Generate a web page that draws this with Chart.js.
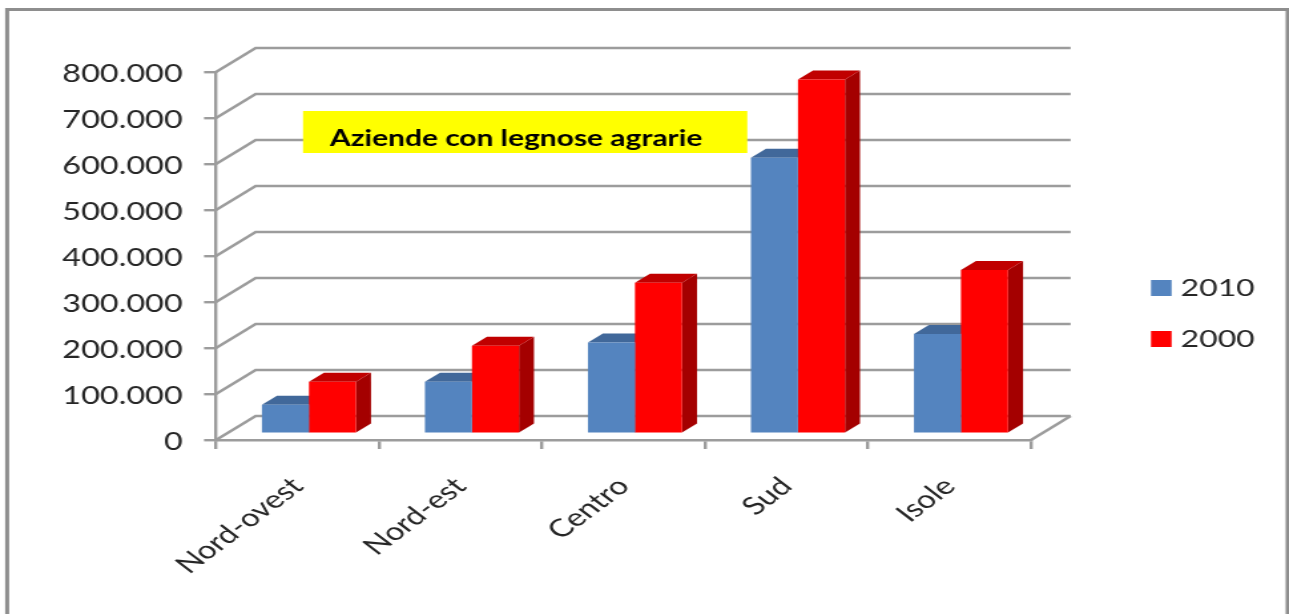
<!DOCTYPE html>
<html><head><meta charset="utf-8">
<style>
html,body{margin:0;padding:0;background:#fff;overflow:hidden}
#wrap{position:absolute;left:0;top:0;width:969px;height:614px;transform-origin:0 0;transform:scale(1.3302,1);filter:blur(0.35px)}
canvas{display:block}
</style>
<script src="https://cdn.jsdelivr.net/npm/chart.js@4"></script>
</head><body>
<div id="wrap"><canvas id="c" width="969" height="614"></canvas></div>
<script>
const categories = ['Nord-ovest','Nord-est','Centro','Sud','Isole'];
const values2010 = [63000,113000,198000,600000,217000];
const values2000 = [113000,191000,328000,770000,356000];
const seriesNames = ['2010','2000'];
const titleText = 'Aziende con legnose agrarie';

const S = 1.3302;
const FONT = 'Lato';
const GRID = '#9c9c9c';
const TEXT = '#262626';
const WALL = {dx:29.8, dy:24};
const BAR = {ox:8.6, oy:6.3, dx:11.3, dy:9};
const FACES = [{top:'#41689A',side:'#41689A'},{top:'#C00000',side:'#A40000'}];
const LEGEND_STROKE = 10.4;
const SERIES_COLORS = ['#5484BF','#FF0000'];

function nudgeLabels(dy){
  return function(s){
    if(s._nudged) return;
    s._nudged = true;
    const f = s._computeLabelItems;
    s._computeLabelItems = function(area){
      const items = f.call(this,area);
      items.forEach(it=>{ it.options.translation = [it.options.translation[0], it.options.translation[1]+dy]; });
      return items;
    };
  };
}

const scene = {
  id:'scene',
  beforeDraw(chart){
    const c = chart.ctx;
    c.save();
    c.fillStyle='#fff'; c.fillRect(0,0,chart.width,chart.height);
    c.strokeStyle='#8e8e8e'; c.lineWidth=3;
    c.beginPath();
    c.moveTo(5.4,620); c.lineTo(5.4,9.5); c.lineTo(968,9.5); c.lineTo(968,620);
    c.stroke();
    c.restore();
  },
  beforeDatasetsDraw(chart){
    const c = chart.ctx, y = chart.scales.y, a = chart.chartArea;
    c.save();
    c.strokeStyle=GRID; c.lineWidth=2.4;
    y.ticks.forEach(t=>{
      const p = y.getPixelForValue(t.value);
      c.beginPath();
      c.moveTo(a.left,p);
      c.lineTo(a.left+WALL.dx,p-WALL.dy);
      c.lineTo(a.right+WALL.dx,p-WALL.dy);
      c.stroke();
    });
    const b = y.getPixelForValue(0);
    c.beginPath();
    c.moveTo(a.right,b);
    c.lineTo(a.right+WALL.dx,b-WALL.dy);
    c.stroke();
    c.restore();
    c.save();
    c.translate(BAR.ox,-BAR.oy);
    [0,1].forEach(i=>{
      chart.getDatasetMeta(i).data.forEach(el=>{
        const l = el.x-el.width/2, r = el.x+el.width/2, t = el.y, bs = el.base;
        c.fillStyle = FACES[i].side;
        c.beginPath();
        c.moveTo(r,t); c.lineTo(r+BAR.dx,t-BAR.dy); c.lineTo(r+BAR.dx,bs-BAR.dy); c.lineTo(r,bs);
        c.closePath(); c.fill();
        c.fillStyle = FACES[i].top;
        c.beginPath();
        c.moveTo(l,t); c.lineTo(l+BAR.dx,t-BAR.dy); c.lineTo(r+BAR.dx,t-BAR.dy); c.lineTo(r,t);
        c.closePath(); c.fill();
      });
    });
  },
  afterDatasetsDraw(chart){
    const c = chart.ctx;
    c.restore();
    c.save();
    c.fillStyle='#FFFF00';
    c.fillRect(227.8,111,334,42);
    c.fillStyle='#000';
    c.font='bold 22.5px '+FONT;
    c.textAlign='left'; c.textBaseline='middle';
    c.fillText(titleText,248,138.5);
    c.restore();
  },
  afterLayout(chart){
    const lg = chart.legend;
    if(lg){
      const shift = 1151/S + LEGEND_STROKE/2 - lg.options.labels.padding - lg.left;
      lg.left += shift; lg.right += shift;
      const up = (72+614)/2 - 313.5;
      lg.top -= up; lg.bottom -= up;
      lg.adjustHitBoxes();
    }
  }
};

new Chart(document.getElementById('c'),{
  type:'bar',
  data:{labels:categories,datasets:[
    {label:seriesNames[0],data:values2010,backgroundColor:SERIES_COLORS[0],categoryPercentage:0.577,barPercentage:1},
    {label:seriesNames[1],data:values2000,backgroundColor:SERIES_COLORS[1],categoryPercentage:0.577,barPercentage:1}
  ]},
  options:{
    responsive:false,animation:false,
    layout:{padding:{top:72,left:0,right:0,bottom:0}},
    plugins:{
      tooltip:{enabled:false},title:{display:false},
      legend:{
        position:'right',align:'center',
        labels:{boxWidth:15.5-LEGEND_STROKE,boxHeight:16-LEGEND_STROKE,padding:27,color:TEXT,font:{family:FONT,size:24},
          generateLabels(chart){
            return Chart.defaults.plugins.legend.labels.generateLabels(chart).map((it,i)=>Object.assign(it,{strokeStyle:SERIES_COLORS[i],lineWidth:LEGEND_STROKE}));
          }}
      }
    },
    scales:{
      x:{
        grid:{drawOnChartArea:false,color:GRID,lineWidth:2.4,tickLength:9,offset:true},
        border:{color:GRID,width:2.4},
        ticks:{color:TEXT,font:{family:FONT,size:24.8},maxRotation:45,minRotation:45,padding:20,autoSkip:false},
        afterFit(s){s.height=174; nudgeLabels(2.5)(s);}
      },
      y:{
        min:0,max:800000,
        grid:{drawOnChartArea:false,color:GRID,lineWidth:2.4,tickLength:9},
        border:{color:GRID,width:2.4},
        ticks:{stepSize:100000,color:TEXT,font:{family:FONT,size:24.4},padding:16,
          callback:v=>String(v).replace(/\B(?=(\d{3})+$)/g,'.')},
        afterFit(s){s.width=216/S; nudgeLabels(2)(s);}
      }
    }
  },
  plugins:[scene,{id:'fixLegend',beforeLayout(chart){
    const lg=chart.legend;
    if(lg&&!lg._wrapped){
      const f=lg.fit.bind(lg);
      lg.fit=function(){f();this.width=969-1031/S;};
      lg._wrapped=true;
    }
  }}]
});
</script>
</body></html>
